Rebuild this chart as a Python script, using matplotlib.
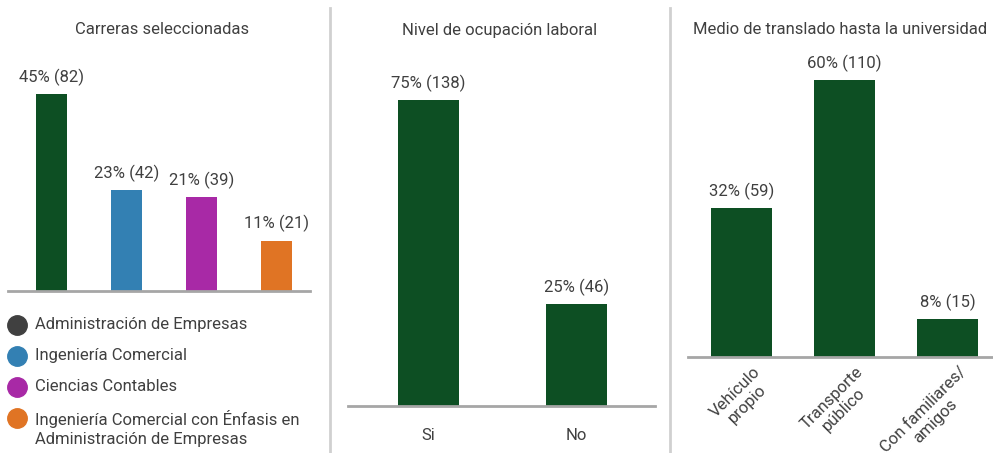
import matplotlib
matplotlib.use("Agg")
import matplotlib.pyplot as plt
from matplotlib.lines import Line2D
from matplotlib.transforms import ScaledTranslation

plt.rcParams['font.family'] = ['Roboto', 'DejaVu Sans']

# data
carreras = ["Administración de Empresas", "Ingeniería Comercial", "Ciencias Contables",
            "Ingeniería Comercial con Énfasis en\nAdministración de Empresas"]
carreras_n = [82, 42, 39, 21]
carreras_pct = [45, 23, 21, 11]

ocupacion = ["Si", "No"]
ocupacion_n = [138, 46]
ocupacion_pct = [75, 25]

medio = ["Vehículo\npropio", "Transporte\npúblico", "Con familiares/\namigos"]
medio_n = [59, 110, 15]
medio_pct = [32, 60, 8]

GREEN = "#0d4f23"
bar_colors = [GREEN, "#3380b3", "#a829a6", "#e07424"]
legend_colors = ["#404040", "#3380b3", "#a829a6", "#e07424"]
TXT = "#404040"
AXC = "#a6a6a6"
FS = 12

W, H = 993, 453
fig = plt.figure(figsize=(W / 100, H / 100), dpi=100)


def px_axes(left, top, right, bottom):
    return fig.add_axes([left / W, 1 - bottom / H, (right - left) / W, (bottom - top) / H])


def style(ax):
    for s in ["top", "right", "left"]:
        ax.spines[s].set_visible(False)
    ax.spines["bottom"].set_color(AXC)
    ax.spines["bottom"].set_linewidth(2)
    ax.set_yticks([])
    ax.tick_params(axis="x", length=0, colors=TXT, labelsize=FS, pad=16)


def labels(ax, bars, n, pct):
    for b, v, p in zip(bars, n, pct):
        ax.annotate(f"{p}% ({v})", (b.get_x() + b.get_width() / 2, b.get_height()),
                    xytext=(0, 6), textcoords="offset points", ha="center", va="bottom",
                    fontsize=FS, color=TXT)


# panel 1
ax1 = px_axes(8, 60, 310, 291)
b1 = ax1.bar(range(len(carreras)), carreras_n, width=0.413, color=bar_colors)
ax1.set_xlim(-0.58, 3.447)
ax1.set_ylim(0, 231 / (197 / 82))
style(ax1)
ax1.set_xticks([])
labels(ax1, b1, carreras_n, carreras_pct)

# panel 2
ax2 = px_axes(348, 60, 655, 406)
b2 = ax2.bar(range(len(ocupacion)), ocupacion_n, width=0.412, color=GREEN)
ax2.set_xlim(-0.544, 1.530)
ax2.set_ylim(0, 346 / (306 / 138))
style(ax2)
ax2.set_xticks(range(len(ocupacion)), ocupacion)
labels(ax2, b2, ocupacion_n, ocupacion_pct)

# panel 3
ax3 = px_axes(688, 60, 993, 357)
b3 = ax3.bar(range(len(medio)), medio_n, width=0.592, color=GREEN)
ax3.set_xlim(-0.519, 2.442)
ax3.set_ylim(0, 297 / (277 / 110))
style(ax3)
ax3.set_xticks(range(len(medio)), medio, rotation=45, ha="right", rotation_mode="anchor",
               multialignment="center", linespacing=1.15)
ax3.tick_params(axis="x", pad=5)
for t in ax3.get_xticklabels():
    t.set_transform(t.get_transform() + ScaledTranslation(8 / 72, 0, fig.dpi_scale_trans))
labels(ax3, b3, medio_n, medio_pct)

# titles
for xc, title in [(162, "Carreras seleccionadas"), (500, "Nivel de ocupación laboral"),
                  (840, "Medio de translado hasta la universidad")]:
    fig.text(xc / W, 1 - 30 / H, title, ha="center", va="center", fontsize=FS, color=TXT)

# dividers
for xd in [330, 670]:
    fig.add_artist(Line2D([xd / W, xd / W], [0, 1 - 8 / H], transform=fig.transFigure,
                          color="#d0d0d0", lw=2))

# legend
for i, (lab, c) in enumerate(zip(carreras, legend_colors)):
    yy = 325 + i * 31
    fig.add_artist(Line2D([17 / W], [1 - yy / H], transform=fig.transFigure, marker="o",
                          markersize=14, color=c, linestyle="none"))
    fig.text(35 / W, 1 - (yy - 8) / H, lab, ha="left", va="top", fontsize=FS, color=TXT,
             linespacing=1.3)

fig.savefig("out.png", dpi=100)
